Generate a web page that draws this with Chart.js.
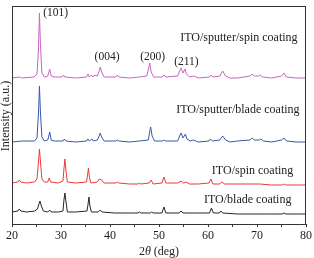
<!DOCTYPE html>
<html>
<head>
<meta charset="utf-8">
<script src="https://cdn.jsdelivr.net/npm/chart.js@4"></script>
<style>
  html, body { margin: 0; padding: 0; background: #fff; }
  canvas { display: block; }
</style>
</head>
<body>
<canvas id="xrd" width="314" height="258"></canvas>
<script>
// 2θ / intensity pairs (intensity in arbitrary offset units)
const sputterSpin = [
  [20,146],[21.5,147],[22,146],[24.5,147],[25.1,150],[25.4,175],[25.6,211],[25.8,180],[26.1,151],[26.6,147],
  [27.3,148],[27.7,155],[28.0,148],[28.6,147],[30.2,147],[30.5,149],[30.8,147],[33,146],[35.2,147],[35.5,150],
  [35.8,147],[36.2,149],[36.5,147],[36.8,149],[37.4,148],[37.8,153],[38.0,157],[38.3,152],[38.8,147],[41.2,147],
  [41.5,149],[41.8,147],[44,146],[46,147],[47.5,148],[47.9,156],[48.1,161],[48.4,152],[48.9,147],[50.7,147],
  [51.0,149],[51.4,147],[53.8,148],[54.3,154],[54.5,156],[54.9,151],[55.3,155],[55.6,150],[56.2,147],[57.2,148],
  [58,146],[60.3,147],[60.6,149],[61,147],[62.4,148],[63.0,153],[63.6,148],[64.5,146],[66,146],[68.6,148],
  [69.0,150],[69.5,148],[70.3,148],[70.6,149],[71.2,147],[73,146],[75.0,148],[75.5,151],[76.0,147],[78,146],[80,146]
];
const sputterBlade = [
  [20,82],[22,83],[24.6,83],[25.1,86],[25.4,110],[25.6,138],[25.8,112],[26.1,87],[26.6,83],[27.3,84],
  [27.7,92],[28.0,84],[28.6,83],[30.4,83],[30.7,85],[31.0,83],[33,82],[35.2,83],[35.5,85],[35.8,83],
  [36.3,85],[36.6,83],[37.4,84],[37.8,88],[38.0,91],[38.3,87],[38.8,83],[41.2,83],[41.5,84],[41.8,83],
  [44,82],[46,83],[47.8,84],[48.1,92],[48.3,97],[48.6,88],[49.1,83],[50.7,83],[51.0,84],[51.4,83],
  [53.8,83],[54.3,89],[54.5,91],[54.9,86],[55.4,90],[55.7,85],[56.4,83],[57.0,84],[58,82],[60.2,83],
  [60.5,85],[60.9,83],[62.4,84],[63.0,88],[63.6,84],[64.5,82],[66,83],[68.6,84],[69.0,86],[69.5,84],
  [70.5,84],[70.8,85],[71.3,83],[73,82],[75.0,84],[75.5,86],[76.0,83],[78,82],[80,82]
];
const spinCoat = [
  [20,41],[21.2,42],[21.5,44],[21.8,42],[23,41],[24.6,42],[25.1,45],[25.4,62],[25.6,75],[25.8,63],
  [26.1,45],[26.6,42],[27.3,42],[27.6,46],[27.9,42],[29.5,41],[30.4,43],[30.6,55],[30.8,65],[31.0,54],
  [31.3,42],[33,41],[35.2,42],[35.4,48],[35.6,56],[35.8,47],[36.1,41],[37.4,42],[37.8,45],[38.3,44],
  [38.8,41],[41.2,41],[41.5,42],[41.8,41],[44,40],[45.7,40],[46.0,41],[46.3,40],[48.0,41],[48.4,44],
  [48.8,40],[50.6,41],[51.0,47],[51.4,41],[53.8,41],[54.5,43],[55.0,41],[55.5,42],[56.2,40],[58,40],
  [60.2,41],[60.6,45],[61.0,40],[62.4,40],[62.8,42],[63.4,40],[66,40],[69,40],[70.5,40],[73,39],
  [75.2,39],[75.5,40],[75.9,39],[78,39],[80,39]
];
const bladeCoat = [
  [20,12],[21.2,13],[21.5,15],[21.8,13],[23,12],[24.6,13],[25.2,15],[25.5,20],[25.7,23],[26.0,18],
  [26.4,13],[27.3,12],[27.7,14],[28.0,12],[29.5,12],[30.4,13],[30.6,24],[30.8,31],[31.0,23],[31.3,12],
  [33,12],[35.3,13],[35.5,19],[35.7,27],[35.9,18],[36.2,12],[37.6,12],[38.0,14],[38.4,12],[41,11],
  [44,11],[45.7,11],[46.0,12],[46.3,11],[48.2,11],[48.5,12],[48.8,11],[50.6,11],[51.0,17],[51.4,11],
  [54.1,11],[54.5,13],[54.9,11],[58,11],[60.3,11],[60.7,16],[61.1,11],[62.3,11],[62.6,13],[63.0,11],
  [66,10],[70,10],[73,10],[75.2,10],[75.5,11],[75.9,10],[78,10],[80,10]
];

const seriesNames = ['ITO/sputter/spin coating', 'ITO/sputter/blade coating', 'ITO/spin coating', 'ITO/blade coating'];
const seriesColors = ['#c865c4', '#3a58a8', '#ea3b35', '#262626'];
const seriesLabelPos = [[66.3, 186], [66.1, 114], [69.1, 53], [68.1, 24]];

const peakLabels = ['(101)', '(004)', '(200)', '(211)'];
const peakLabelPos = [[28.9, 211], [39.4, 167], [48.7, 167], [55.6, 162]];

const xTicks = [20, 30, 40, 50, 60, 70, 80];

const serif = '"Liberation Serif", "DejaVu Serif", serif';

const textPlugin = {
  id: 'xrdText',
  afterDraw(chart) {
    const { ctx, chartArea: a, scales } = chart;
    const x = scales.x, y = scales.y;
    ctx.save();
    // frame
    ctx.strokeStyle = '#333';
    ctx.lineWidth = 1;
    ctx.strokeRect(a.left + 0.5, a.top + 0.5, a.right - a.left - 1, a.bottom - a.top);

    ctx.fillStyle = '#222';
    ctx.textAlign = 'center';
    ctx.textBaseline = 'middle';
    ctx.font = '12px ' + serif;
    seriesNames.forEach((n, i) => {
      ctx.fillText(n, x.getPixelForValue(seriesLabelPos[i][0]), y.getPixelForValue(seriesLabelPos[i][1]));
    });
    ctx.font = '11.5px ' + serif;
    peakLabels.forEach((n, i) => {
      ctx.fillText(n, x.getPixelForValue(peakLabelPos[i][0]), y.getPixelForValue(peakLabelPos[i][1]));
    });

    // y title
    ctx.save();
    ctx.translate(6, (a.top + a.bottom) / 2 + 1);
    ctx.rotate(-Math.PI / 2);
    ctx.font = '12px ' + serif;
    ctx.fillText('Intensity (a.u.)', 0, 0);
    ctx.restore();

    // x title: 2θ (deg) with italic theta
    const parts = [['2', ''], ['θ', 'italic '], [' (deg)', '']];
    let total = 0;
    parts.forEach(p => { ctx.font = p[1] + '12px ' + serif; total += ctx.measureText(p[0]).width; });
    let cx = (a.left + a.right) / 2 - total / 2;
    ctx.textAlign = 'left';
    parts.forEach(p => {
      ctx.font = p[1] + '12px ' + serif;
      ctx.fillText(p[0], cx, 252);
      cx += ctx.measureText(p[0]).width;
    });
    ctx.restore();
  }
};

const datasets = [sputterSpin, sputterBlade, spinCoat, bladeCoat].map((d, i) => ({
  label: seriesNames[i],
  data: d,
  borderColor: seriesColors[i],
  borderWidth: 1,
  pointRadius: 0,
  showLine: true,
  tension: 0,
  fill: false
}));

new Chart(document.getElementById('xrd'), {
  type: 'scatter',
  data: { datasets },
  options: {
    responsive: false,
    animation: false,
    devicePixelRatio: 1,
    layout: { padding: { left: 12, top: 6, right: 5, bottom: 0 } },
    plugins: { legend: { display: false }, tooltip: { enabled: false } },
    scales: {
      x: {
        type: 'linear',
        min: 20,
        max: 80,
        afterFit(s) { s.height = 34; },
        ticks: {
          stepSize: 5,
          autoSkip: false,
          maxRotation: 0,
          color: '#222',
          font: { family: serif, size: 12 },
          padding: 2,
          callback: v => (xTicks.includes(v) ? v : '')
        },
        grid: { drawOnChartArea: false, tickLength: 3, color: '#333' },
        border: { color: '#333' }
      },
      y: {
        display: false,
        min: 0,
        max: 218
      }
    }
  },
  plugins: [textPlugin]
});
</script>
</body>
</html>
